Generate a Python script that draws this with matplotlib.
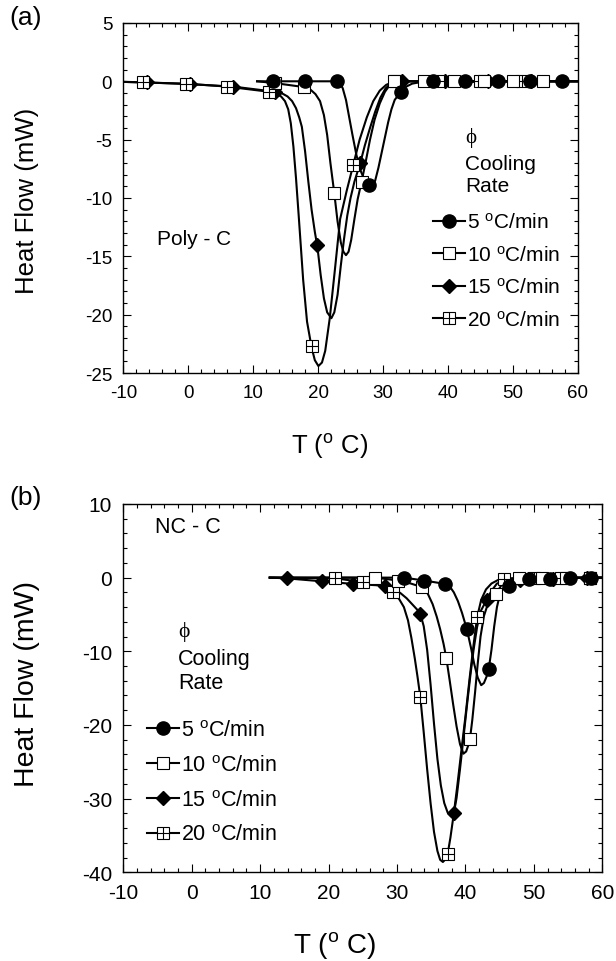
import matplotlib
matplotlib.use("Agg")
import matplotlib.pyplot as plt
from matplotlib.ticker import MultipleLocator
from matplotlib.legend_handler import HandlerTuple
from matplotlib.lines import Line2D

plt.rcParams['font.family'] = ['Liberation Sans', 'DejaVu Sans']
plt.rcParams['axes.unicode_minus'] = False
plt.rcParams['mathtext.default'] = 'regular'

rate_labels = ["5 $^{o}$C/min", "10 $^{o}$C/min", "15 $^{o}$C/min", "20 $^{o}$C/min"]

# ---- (a) Poly - C : traces ----
a5_T = [10.6, 13.0, 18.0, 22.9, 23.4, 23.8, 24.3, 24.8, 25.3, 25.9, 26.5, 27.2, 27.9, 28.4, 28.8, 29.3, 29.8,
        30.3, 30.8, 31.3, 31.8, 32.8, 33.6, 34.5, 36.0, 60.0]
a5_H = [0, 0, 0, 0, -0.15, -0.6, -1.6, -3.1, -4.6, -6.3, -7.6, -8.5, -8.95, -9.0, -8.5, -7.4, -6.1,
        -4.8, -3.5, -2.4, -1.6, -0.85, -0.45, -0.2, -0.05, 0]
a10_T = [10.6, 13.3, 17.9, 18.8, 19.6, 20.3, 20.9, 21.4, 21.9, 22.5, 23.0, 23.5, 23.9, 24.3, 24.7, 25.1, 25.6,
         26.1, 26.7, 27.3, 28.0, 28.7, 29.5, 30.3, 31.0, 31.7, 60.0]
a10_H = [0, -0.15, -0.5, -0.7, -1.1, -1.7, -2.9, -4.6, -7.0, -9.6, -12.0, -13.8, -14.6, -14.9, -14.6, -13.6, -11.8,
         -10.1, -8.6, -7.0, -5.0, -3.3, -1.9, -0.9, -0.35, 0, 0]
a15_T = [-10.0, -6.3, 0.3, 6.9, 13.4, 14.5, 15.3, 16.0, 16.6, 17.1, 17.5, 18.0, 18.5, 19.0, 19.5, 19.9, 20.4,
         20.9, 21.4, 22.05, 22.5, 23.0, 23.5, 24.0, 24.5, 25.0, 25.6, 26.5, 27.2, 28.0, 28.8, 29.6, 30.4,
         31.2, 33.0, 60.0]
a15_H = [-0.05, -0.1, -0.25, -0.45, -0.9, -1.05, -1.3, -1.7, -2.3, -3.1, -3.9, -6.0, -8.6, -11.0, -12.9, -14.2, -16.6,
         -18.6, -19.8, -20.3, -19.8, -18.3, -15.8, -13.5, -11.5, -10.0, -8.6, -7.0, -5.5, -4.0, -2.6, -1.4, -0.6,
         -0.2, 0, 0]
a20_T = [-10.0, -6.9, -0.4, 5.9, 12.5, 13.5, 14.3, 14.9, 15.4, 15.8, 16.2, 16.6, 17.0, 17.7, 18.3, 19.0, 19.5,
         20.05, 20.6, 21.1, 21.8, 22.6, 23.4, 24.4, 25.4, 26.4, 27.5, 28.5, 29.5, 30.5, 31.9, 60.0]
a20_H = [-0.05, -0.1, -0.2, -0.45, -0.9, -1.05, -1.3, -1.7, -2.4, -3.6, -5.6, -8.3, -11.4, -17.0, -20.6, -22.8, -23.9,
         -24.4, -24.1, -23.1, -20.3, -16.1, -11.8, -9.4, -7.2, -5.0, -3.1, -1.7, -0.8, -0.3, 0, 0]

# ---- (a) marker points ----
a5_mT = [13.0, 17.95, 22.9, 27.85, 32.8, 37.75, 42.7, 47.65, 52.6, 57.55]
a5_mH = [0, 0, 0, -8.9, -0.9, 0, 0, 0, 0, 0]
a10_mT = [13.3, 17.9, 22.5, 26.8, 31.7, 36.3, 40.9, 45.5, 50.1, 54.7]
a10_mH = [-0.15, -0.5, -9.6, -8.6, 0, 0, 0, 0, 0, 0]
a15_mT = [-6.3, 0.3, 6.9, 13.4, 19.9, 26.5, 33.0, 39.6, 46.2, 52.8]
a15_mH = [-0.1, -0.25, -0.45, -0.9, -14.0, -7.0, 0, 0, 0, 0]
a20_mT = [-6.9, -0.4, 5.9, 12.5, 19.0, 25.4, 31.9, 38.4, 44.9, 51.4]
a20_mH = [-0.1, -0.2, -0.45, -0.9, -22.7, -7.2, 0, 0, 0, 0]

# ---- (b) NC - C : traces ----
b5_T = [11.4, 31.0, 34.0, 37.0, 37.7, 38.3, 38.9, 39.5, 40.2, 40.8, 41.3, 41.8, 42.3, 42.7, 43.1, 43.4, 43.8,
        44.2, 44.6, 45.0, 45.5, 46.3, 47.5, 49.3, 52.4, 55.3, 60.0]
b5_H = [0, 0, -0.4, -0.85, -1.2, -2.0, -3.2, -4.8, -7.0, -9.5, -11.8, -13.6, -14.6, -14.3, -13.4, -12.4, -9.8,
        -6.6, -4.0, -2.4, -1.5, -1.1, -0.5, -0.2, -0.2, 0, 0]
b10_T = [11.4, 26.8, 30.2, 32.0, 33.7, 34.5, 35.2, 35.8, 36.3, 36.8, 37.2, 37.7, 38.2, 38.7, 39.2, 39.7, 40.1,
         40.4, 40.7, 41.0, 41.4, 41.8, 42.2, 42.7, 43.3, 44.0, 44.6, 45.2, 46.0, 47.7, 60.0]
b10_H = [0, 0, -0.4, -0.8, -1.3, -2.2, -3.6, -5.3, -7.0, -9.0, -10.9, -14.0, -17.2, -20.2, -22.6, -23.9, -23.6,
         -22.8, -21.6, -19.3, -15.6, -11.6, -8.0, -5.2, -3.5, -2.6, -2.0, -1.1, -0.4, 0, 0]
b15_T = [11.4, 13.9, 19.0, 23.5, 28.3, 29.5, 30.5, 31.4, 32.2, 32.9, 33.4, 33.9, 34.4, 34.9, 35.4, 35.9, 36.4,
         36.9, 37.4, 37.9, 38.3, 38.7, 39.2, 39.7, 40.2, 40.7, 41.2, 41.7, 42.2, 43.1, 43.8, 44.6, 46.0, 48.0,
         53.0, 60.0]
b15_H = [0, -0.1, -0.5, -0.85, -1.1, -1.5, -2.1, -2.8, -3.6, -4.3, -4.9, -6.6, -9.8, -14.5, -19.8, -24.6, -28.2,
         -30.6, -31.9, -32.4, -32.0, -29.9, -26.0, -21.8, -17.5, -13.4, -9.7, -6.7, -4.6, -3.0, -1.8, -0.8, -0.4, -0.3,
         -0.1, 0]
b20_T = [11.4, 21.0, 25.0, 27.5, 29.4, 30.3, 31.0, 31.6, 32.1, 32.6, 33.0, 33.4, 33.9, 34.4, 34.9, 35.4, 35.9,
         36.3, 36.7, 37.1, 37.4, 37.8, 38.3, 38.8, 39.4, 40.0, 40.6, 41.2, 41.7, 42.3, 43.0, 43.8, 44.7, 45.7,
         48.0, 60.0]
b20_H = [0, -0.1, -0.6, -1.1, -2.0, -2.9, -4.0, -5.8, -8.2, -11.0, -13.5, -16.2, -21.0, -26.0, -30.6, -34.5, -37.1,
         -38.3, -38.6, -38.2, -37.5, -35.3, -32.0, -28.3, -23.5, -18.8, -13.7, -9.0, -5.4, -3.0, -1.6, -0.8, -0.35, -0.15,
         0, 0]

# ---- (b) marker points ----
b5_mT = [31.0, 34.0, 37.0, 40.2, 43.4, 46.3, 49.3, 52.4, 55.3, 58.3]
b5_mH = [0, -0.4, -0.85, -7.0, -12.4, -1.1, -0.2, -0.2, 0, 0]
b10_mT = [26.8, 30.2, 33.7, 37.2, 40.7, 44.4, 47.8, 51.2, 54.7, 58.2]
b10_mH = [0, -0.4, -1.3, -10.9, -21.9, -2.2, 0, 0, 0, 0]
b15_mT = [13.9, 19.0, 23.5, 28.3, 33.4, 38.3, 43.1, 48.0, 52.8, 57.7]
b15_mH = [-0.1, -0.5, -0.85, -1.1, -4.9, -31.9, -3.1, -0.3, -0.2, 0]
b20_mT = [21.0, 25.0, 29.4, 33.4, 37.4, 41.7, 45.7, 50.0, 54.0, 58.2]
b20_mH = [-0.1, -0.6, -2.0, -16.2, -37.5, -5.4, -0.2, 0, 0, 0]


def draw_panel(ax, traces, marks, tick_fs):
    lw = 1.5
    # draw 20, 15, 10, 5 so the filled circles stay on top
    for t, h in traces[::-1]:
        ax.plot(t, h, color='black', lw=lw)
    (m5, n5), (m10, n10), (m15, n15), (m20, n20) = marks
    ax.plot(m15, n15, ls='none', marker='D', ms=7, mfc='black', mec='black')
    ax.plot(m20, n20, ls='none', marker='s', ms=8, mfc='white', mec='black', mew=0.8)
    ax.plot(m20, n20, ls='none', marker='+', ms=8, mec='black', mew=0.8)
    ax.plot(m10, n10, ls='none', marker='s', ms=8, mfc='white', mec='black', mew=0.8)
    ax.plot(m5, n5, ls='none', marker='o', ms=9.5, mfc='black', mec='black')

    ax.set_xlim(-10, 60)
    ax.xaxis.set_major_locator(MultipleLocator(10))
    ax.xaxis.set_minor_locator(MultipleLocator(2))
    ax.tick_params(which='both', direction='in', top=True, right=True, labelsize=tick_fs)
    ax.tick_params(which='major', length=6, width=0.8, pad=8)
    ax.tick_params(which='minor', length=3, width=0.8)
    for s in ax.spines.values():
        s.set_linewidth(1.0)

    # legend handles: short line with the marker on it
    h5l = Line2D([], [], color='black', lw=lw, marker='o', ms=9.5, mfc='black', mec='black')
    h10l = Line2D([], [], color='black', lw=lw, marker='s', ms=8, mfc='white', mec='black', mew=0.8)
    h15l = Line2D([], [], color='black', lw=lw, marker='D', ms=7, mfc='black', mec='black')
    h20l = Line2D([], [], color='black', lw=lw, marker='s', ms=8, mfc='white', mec='black', mew=0.8)
    h20p = Line2D([], [], ls='none', marker='+', ms=8, mec='black', mew=0.8)
    return [h5l, h10l, h15l, (h20l, h20p)]


fig = plt.figure(figsize=(6.16, 9.62), dpi=100)
ax1 = fig.add_axes([0.2002, 0.6112, 0.7377, 0.3639])
ax2 = fig.add_axes([0.2002, 0.0922, 0.7776, 0.3829])

# ---- panel (a) ----
handles = draw_panel(ax1,
                     [(a5_T, a5_H), (a10_T, a10_H), (a15_T, a15_H), (a20_T, a20_H)],
                     [(a5_mT, a5_mH), (a10_mT, a10_mH), (a15_mT, a15_mH), (a20_mT, a20_mH)],
                     13.5)
ax1.set_ylim(-25, 5)
ax1.yaxis.set_major_locator(MultipleLocator(5))
ax1.yaxis.set_minor_locator(MultipleLocator(1))
ax1.set_xlabel("T ($^{o}$ C)", fontsize=18.5, va='center')
ax1.xaxis.set_label_coords(0.453, -0.206)
ax1.set_ylabel("Heat Flow (mW)", fontsize=18.5, va='center')
ax1.yaxis.set_label_coords(-0.212, 0.494)
ax1.text(0.0741, 0.383, "Poly - C", transform=ax1.transAxes, fontsize=15, va='center')
ax1.text(0.752, 0.674, "\u03d5", transform=ax1.transAxes, fontsize=15, va='center',
         family=['Liberation Serif', 'DejaVu Serif'])
ax1.text(0.752, 0.568, "Cooling\nRate", transform=ax1.transAxes, fontsize=15, va='center',
         linespacing=1.2)
ax1.legend(handles, rate_labels, handler_map={tuple: HandlerTuple(ndivide=1)},
           loc='upper left', bbox_to_anchor=(0.6815, 0.46), frameon=False,
           fontsize=15, handlelength=1.55, handletextpad=0.1, labelspacing=0.6,
           borderpad=0, borderaxespad=0, numpoints=1)

# ---- panel (b) ----
handles = draw_panel(ax2,
                     [(b5_T, b5_H), (b10_T, b10_H), (b15_T, b15_H), (b20_T, b20_H)],
                     [(b5_mT, b5_mH), (b10_mT, b10_mH), (b15_mT, b15_mH), (b20_mT, b20_mH)],
                     15)
ax2.set_ylim(-40, 10)
ax2.yaxis.set_major_locator(MultipleLocator(10))
ax2.yaxis.set_minor_locator(MultipleLocator(2))
ax2.set_xlabel("T ($^{o}$ C)", fontsize=20, va='center')
ax2.xaxis.set_label_coords(0.44, -0.195)
ax2.set_ylabel("Heat Flow (mW)", fontsize=20.5, va='center')
ax2.yaxis.set_label_coords(-0.202, 0.514)
ax2.text(0.066, 0.940, "NC - C", transform=ax2.transAxes, fontsize=15.5, va='center')
ax2.text(0.114, 0.655, "\u03d5", transform=ax2.transAxes, fontsize=15.5, va='center',
         family=['Liberation Serif', 'DejaVu Serif'])
ax2.text(0.114, 0.548, "Cooling\nRate", transform=ax2.transAxes, fontsize=15.5, va='center',
         linespacing=1.2)
ax2.legend(handles, rate_labels, handler_map={tuple: HandlerTuple(ndivide=1)},
           loc='upper left', bbox_to_anchor=(0.0495, 0.4135), frameon=False,
           fontsize=15.5, handlelength=1.5, handletextpad=0.1, labelspacing=0.64,
           borderpad=0, borderaxespad=0, numpoints=1)

fig.text(0.016, 0.981, "(a)", fontsize=19, va='center', ha='left')
fig.text(0.016, 0.482, "(b)", fontsize=19, va='center', ha='left')

fig.savefig("out.png", dpi=100)
